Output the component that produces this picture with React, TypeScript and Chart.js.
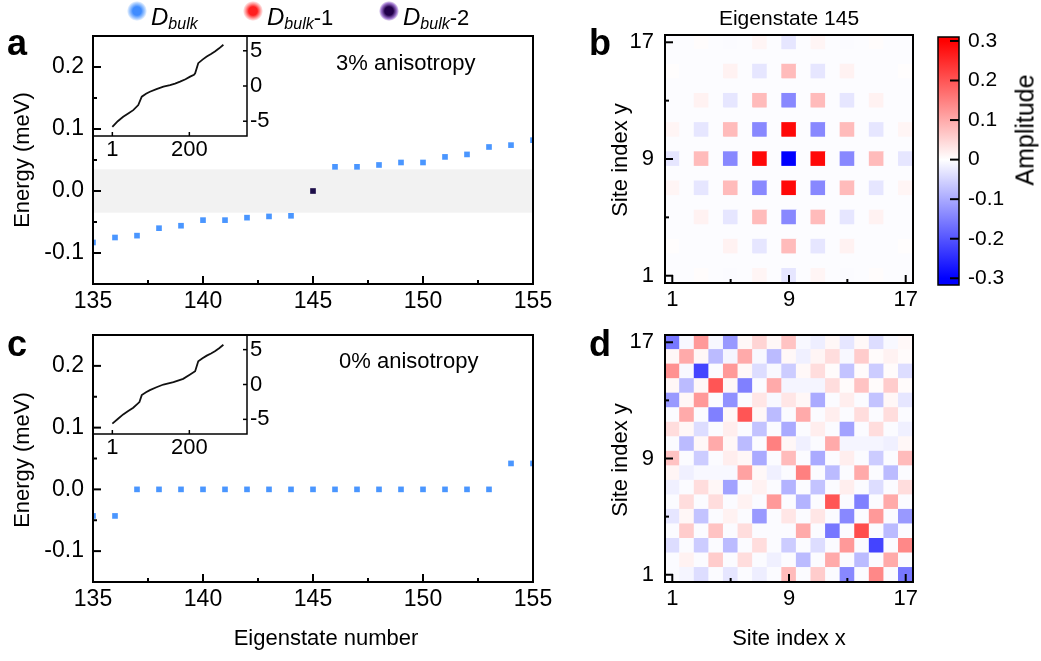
import React, { useEffect, useRef } from 'react';
import { Chart, registerables } from 'chart.js';

Chart.register(...registerables);

const W = 1041;
const H = 661;
const FONT = "'Liberation Sans', Arial, Helvetica, sans-serif";
const AX = 60; // fixed space given to every visible axis box

// ---------------- Data ----------------
// Panel a (3% anisotropy)
const bulkIdxA = [135, 136, 137, 138, 139, 140, 141, 142, 143, 144, 146, 147, 148, 149, 150, 151, 152, 153, 154, 155];
const bulkEnergyA = [-0.083, -0.075, -0.072, -0.06, -0.056, -0.047, -0.047, -0.043, -0.041, -0.04, 0.039, 0.039, 0.042, 0.046, 0.046, 0.055, 0.059, 0.071, 0.074, 0.082];
const edgeIdxA = [145];
const edgeEnergyA = [0.0];
const gapBandA = [-0.035, 0.035];

// Panel c (0% anisotropy)
const bulkIdxC = [135, 136, 137, 138, 139, 140, 141, 142, 143, 144, 145, 146, 147, 148, 149, 150, 151, 152, 153, 154, 155];
const bulkEnergyC = [-0.043, -0.043, 0, 0, 0, 0, 0, 0, 0, 0, 0, 0, 0, 0, 0, 0, 0, 0, 0, 0.042, 0.042];

// Insets: full spectrum
const insetIdxA = [1, 15, 29, 42, 55, 68, 77, 88, 98, 115, 133, 150, 163, 176, 190, 202, 212, 215, 223, 234, 245, 256, 266, 277, 288];
const insetEnergyA = [-5.81, -5.0, -4.38, -3.9, -3.43, -2.71, -1.52, -1.1, -0.81, -0.45, -0.1, 0.14, 0.35, 0.62, 0.95, 1.33, 1.6, 1.81, 3.24, 3.75, 4.19, 4.55, 4.9, 5.35, 5.86];
const insetIdxC = [1, 15, 29, 42, 55, 71, 77, 88, 98, 115, 133, 159, 184, 202, 215, 223, 234, 245, 256, 266, 277, 288];
const insetEnergyC = [-5.62, -4.95, -4.29, -3.8, -3.33, -2.52, -1.52, -1.12, -0.81, -0.4, 0.0, 0.33, 0.81, 1.43, 1.9, 3.33, 3.75, 4.14, 4.45, 4.76, 5.2, 5.71];

// Ticks
const mainXMajor = [135, 140, 145, 150, 155];
const mainXMinor = [137.5, 142.5, 147.5, 152.5];
const mainYMajor = [-0.1, 0.0, 0.1, 0.2];
const mainYMinor = [-0.05, 0.05, 0.15];
const insetXMajor = [1, 200];
const insetYMajor = [-5, 0, 5];
const siteMajor = [1, 9, 17];
const siteMinor = [5, 13];
const colorbarTicks = [-0.3, -0.2, -0.1, 0, 0.1, 0.2, 0.3];
const colorbarStops = [-0.3, 0, 0.3];
const colorbarColors = ['#0000ff', '#ffffff', '#ff0000'];

// Panel b: eigenstate 145 amplitude (rows from y=17 at top down to y=1)
const amplitudeB = [
  [-0.004, -0.004, 0.003, -0.004, -0.005, -0.004, 0.012, -0.004, -0.03, -0.004, 0.012, -0.004, -0.005, -0.004, 0.003, -0.004, -0.004],
  [-0.004, -0.004, -0.004, -0.004, -0.004, -0.004, -0.004, -0.004, -0.004, -0.004, -0.004, -0.004, -0.004, -0.004, -0.004, -0.004, -0.004],
  [0.002, -0.004, -0.004, -0.004, 0.015, -0.004, -0.03, -0.004, 0.08, -0.004, -0.03, -0.004, 0.015, -0.004, -0.004, -0.004, 0.002],
  [-0.004, -0.004, -0.004, -0.004, -0.004, -0.004, -0.004, -0.004, -0.004, -0.004, -0.004, -0.004, -0.004, -0.004, -0.004, -0.004, -0.004],
  [-0.004, -0.004, 0.015, -0.004, -0.03, -0.004, 0.08, -0.004, -0.14, -0.004, 0.08, -0.004, -0.03, -0.004, 0.015, -0.004, -0.004],
  [-0.004, -0.004, -0.004, -0.004, -0.004, -0.004, -0.004, -0.004, -0.004, -0.004, -0.004, -0.004, -0.004, -0.004, -0.004, -0.004, -0.004],
  [0.012, -0.004, -0.03, -0.004, 0.08, -0.004, -0.14, -0.004, 0.29, -0.004, -0.14, -0.004, 0.08, -0.004, -0.03, -0.004, 0.012],
  [-0.004, -0.004, -0.004, -0.004, -0.004, -0.004, -0.004, -0.004, -0.004, -0.004, -0.004, -0.004, -0.004, -0.004, -0.004, -0.004, -0.004],
  [-0.03, -0.004, 0.08, -0.004, -0.14, -0.004, 0.29, -0.004, -0.3, -0.004, 0.29, -0.004, -0.14, -0.004, 0.08, -0.004, -0.03],
  [-0.004, -0.004, -0.004, -0.004, -0.004, -0.004, -0.004, -0.004, -0.004, -0.004, -0.004, -0.004, -0.004, -0.004, -0.004, -0.004, -0.004],
  [0.012, -0.004, -0.03, -0.004, 0.08, -0.004, -0.14, -0.004, 0.29, -0.004, -0.14, -0.004, 0.08, -0.004, -0.03, -0.004, 0.012],
  [-0.004, -0.004, -0.004, -0.004, -0.004, -0.004, -0.004, -0.004, -0.004, -0.004, -0.004, -0.004, -0.004, -0.004, -0.004, -0.004, -0.004],
  [-0.004, -0.004, 0.015, -0.004, -0.03, -0.004, 0.08, -0.004, -0.14, -0.004, 0.08, -0.004, -0.03, -0.004, 0.015, -0.004, -0.004],
  [-0.004, -0.004, -0.004, -0.004, -0.004, -0.004, -0.004, -0.004, -0.004, -0.004, -0.004, -0.004, -0.004, -0.004, -0.004, -0.004, -0.004],
  [0.002, -0.004, -0.004, -0.004, 0.015, -0.004, -0.03, -0.004, 0.08, -0.004, -0.03, -0.004, 0.015, -0.004, -0.004, -0.004, 0.002],
  [-0.004, -0.004, -0.004, -0.004, -0.004, -0.004, -0.004, -0.004, -0.004, -0.004, -0.004, -0.004, -0.004, -0.004, -0.004, -0.004, -0.004],
  [-0.004, -0.004, 0.003, -0.004, -0.005, -0.004, 0.012, -0.004, -0.03, -0.004, 0.012, -0.004, -0.005, -0.004, 0.003, -0.004, -0.004],
];

// Panel d: 0% anisotropy amplitude (rows from y=17 at top down to y=1)
const amplitudeD = [
  [-0.16, -0.008, 0.12, -0.008, -0.12, 0.008, 0.05, 0.01, 0.07, -0.008, -0.02, 0.01, -0.03, 0.008, -0.04, -0.008, 0.008],
  [0.01, 0.1, 0.01, -0.08, -0.012, 0.1, -0.008, -0.08, 0.008, -0.018, 0.012, 0.04, -0.008, 0.06, 0.005, 0.015, 0.005],
  [0.13, -0.008, -0.22, -0.005, 0.12, 0.008, -0.04, -0.008, -0.06, 0.008, 0.04, 0.005, -0.07, 0.005, -0.06, 0.005, -0.04],
  [0.01, -0.08, 0.01, 0.2, 0.01, -0.15, -0.005, 0.1, -0.012, -0.012, -0.012, 0.04, 0.005, 0.07, 0.005, 0.06, 0.005],
  [-0.12, 0.01, 0.12, -0.005, -0.13, -0.005, 0.03, -0.008, 0.03, 0.01, -0.1, -0.005, 0.02, -0.005, -0.07, 0.01, -0.03],
  [-0.005, 0.1, -0.005, -0.15, 0.01, 0.2, 0.01, -0.08, -0.005, 0.1, -0.005, 0.02, -0.005, 0.04, -0.005, 0.04, -0.005],
  [0.04, 0.01, -0.04, -0.005, 0.02, -0.005, -0.07, -0.005, -0.1, -0.005, 0.02, -0.005, -0.11, -0.005, 0.04, -0.005, -0.018],
  [-0.005, -0.08, 0.01, 0.1, 0.01, -0.08, -0.005, 0.15, 0.01, -0.018, -0.005, 0.1, -0.012, -0.012, -0.012, -0.018, 0.01],
  [0.07, -0.005, -0.06, -0.005, 0.02, 0.01, -0.1, -0.005, 0.08, -0.005, -0.1, -0.005, 0.02, -0.005, -0.06, -0.005, 0.08],
  [0.012, -0.018, -0.008, -0.008, -0.008, 0.11, 0.008, -0.018, -0.005, 0.15, -0.005, -0.08, -0.005, 0.1, -0.005, -0.08, -0.005],
  [-0.018, -0.005, 0.04, 0.01, -0.11, -0.005, 0.015, -0.005, -0.09, -0.005, -0.07, -0.005, 0.02, -0.005, -0.04, -0.005, 0.04],
  [-0.005, 0.04, -0.005, 0.04, -0.005, 0.015, -0.005, 0.12, -0.005, -0.09, -0.005, 0.2, -0.005, -0.15, -0.005, 0.1, -0.005],
  [-0.03, 0.01, -0.07, -0.005, 0.015, -0.005, -0.12, -0.005, 0.03, -0.005, 0.03, -0.005, -0.14, -0.005, 0.12, -0.005, -0.12],
  [-0.005, 0.06, -0.005, 0.07, -0.005, 0.04, -0.005, -0.005, -0.005, 0.1, -0.005, -0.16, -0.005, 0.21, -0.005, -0.08, -0.005],
  [-0.04, -0.005, -0.06, -0.005, -0.08, -0.005, 0.04, -0.005, -0.06, -0.005, -0.04, -0.005, 0.12, -0.005, -0.22, -0.005, 0.14],
  [-0.005, 0.015, -0.005, 0.06, -0.005, 0.04, -0.005, -0.018, -0.005, -0.08, -0.005, 0.1, -0.005, -0.08, -0.005, 0.1, -0.005],
  [-0.005, -0.012, -0.04, -0.005, -0.03, -0.005, -0.02, -0.005, 0.08, -0.005, 0.06, -0.005, -0.14, -0.005, 0.14, -0.005, -0.16],
];

// ---------------- Styles ----------------
const BLUE = '#4a96ff';
const PURPLE = '#1e0f4a';
const BAND = '#f2f2f2';

// ---------------- Helpers ----------------
type Area = [number, number, number, number];
type Sides = { left?: boolean; right?: boolean; bottom?: boolean };

function ampColor(v: number): string {
  const t = Math.max(-1, Math.min(1, v / 0.3));
  if (t >= 0) {
    const g = Math.round(255 * (1 - t));
    return `rgb(255,${g},${g})`;
  }
  const g = Math.round(255 * (1 + t));
  return `rgb(${g},${g},255)`;
}

function axis(kind: 'x' | 'y', position: string, min: number, max: number, ticks: number[], fmt: (v: number) => string, pad: number, size: number) {
  return {
    type: 'linear',
    position,
    min,
    max,
    afterBuildTicks: (s: any) => {
      s.ticks = ticks.map((v) => ({ value: v }));
    },
    afterFit: (s: any) => {
      if (kind === 'x') s.height = AX;
      else s.width = AX;
    },
    ticks: {
      callback: (v: any) => fmt(Number(v)),
      font: { family: FONT, size },
      color: '#000',
      padding: pad,
      autoSkip: false,
      maxRotation: 0,
      minRotation: 0,
    },
    grid: { display: false, drawTicks: false },
    border: { display: false },
  };
}

type TickSpec = { axis: string; side: 'left' | 'right' | 'bottom'; major: number[]; minor: number[]; majorLen: number; minorLen: number; width: number };

function framePlugin(lineWidth: number, specs: TickSpec[]) {
  return {
    id: 'frame',
    afterDraw(chart: any) {
      const { ctx, chartArea: a } = chart;
      ctx.save();
      ctx.strokeStyle = '#000';
      for (const t of specs) {
        const sc = chart.scales[t.axis];
        ctx.lineWidth = t.width;
        const draw = (v: number, len: number) => {
          const p = sc.getPixelForValue(v);
          ctx.beginPath();
          if (t.side === 'bottom') {
            ctx.moveTo(p, a.bottom);
            ctx.lineTo(p, a.bottom - len);
          } else if (t.side === 'left') {
            ctx.moveTo(a.left, p);
            ctx.lineTo(a.left + len, p);
          } else {
            ctx.moveTo(a.right, p);
            ctx.lineTo(a.right - len, p);
          }
          ctx.stroke();
        };
        t.major.forEach((v) => draw(v, t.majorLen));
        t.minor.forEach((v) => draw(v, t.minorLen));
      }
      ctx.lineWidth = lineWidth;
      ctx.strokeRect(a.left, a.top, a.right - a.left, a.bottom - a.top);
      ctx.restore();
    },
  };
}

function bandPlugin(range: number[]) {
  return {
    id: 'band',
    beforeDatasetsDraw(chart: any) {
      const { ctx, chartArea: a, scales } = chart;
      const y1 = scales.y.getPixelForValue(range[1]);
      const y0 = scales.y.getPixelForValue(range[0]);
      ctx.save();
      ctx.fillStyle = BAND;
      ctx.fillRect(a.left, y1, a.right - a.left, y0 - y1);
      ctx.restore();
    },
  };
}

const colorbarPlugin = {
  id: 'cbar',
  beforeDatasetsDraw(chart: any) {
    const { ctx, chartArea: a, scales } = chart;
    const y = scales.y;
    const lo = colorbarStops[0];
    const hi = colorbarStops[colorbarStops.length - 1];
    const g = ctx.createLinearGradient(0, y.getPixelForValue(lo), 0, y.getPixelForValue(hi));
    colorbarStops.forEach((s, i) => g.addColorStop((s - lo) / (hi - lo), colorbarColors[i]));
    ctx.save();
    ctx.fillStyle = g;
    ctx.fillRect(a.left, a.top, a.right - a.left, a.bottom - a.top);
    ctx.restore();
  },
};

function baseOptions(area: Area, sides: Sides, scales: any) {
  const [L, T, R, B] = area;
  return {
    responsive: false,
    animation: false,
    events: [],
    layout: {
      padding: {
        left: L - (sides.left ? AX : 0),
        top: T,
        right: W - R - (sides.right ? AX : 0),
        bottom: H - B - (sides.bottom ? AX : 0),
      },
      autoPadding: false,
    },
    plugins: { legend: { display: false }, tooltip: { enabled: false }, title: { display: false } },
    scales,
  };
}

const fmtMainX = (v: number) => String(v);
const fmtMainY = (v: number) => v.toFixed(1);
const fmtInt = (v: number) => String(v);
const fmtCbar = (v: number) => (Math.abs(v) < 1e-9 ? '0' : v.toFixed(1));

function pts(xs: number[], ys: number[]) {
  return xs.map((x, i) => ({ x, y: ys[i] }));
}

function mainConfig(area: Area, datasets: any[], extraPlugins: any[]) {
  return {
    type: 'scatter',
    data: { datasets },
    options: baseOptions(area, { left: true, bottom: true }, {
      x: axis('x', 'bottom', 135, 155, mainXMajor, fmtMainX, 4, 23),
      y: axis('y', 'left', -0.15, 0.25, mainYMajor, fmtMainY, 9, 23),
    }),
    plugins: [
      ...extraPlugins,
      framePlugin(2, [
        { axis: 'x', side: 'bottom', major: mainXMajor, minor: mainXMinor, majorLen: 8, minorLen: 4, width: 2 },
        { axis: 'y', side: 'left', major: mainYMajor, minor: mainYMinor, majorLen: 8, minorLen: 4, width: 2 },
      ]),
    ],
  };
}

function squareSet(data: any[], color: string) {
  return {
    data,
    pointStyle: 'rect',
    pointRadius: 4,
    pointBackgroundColor: color,
    pointBorderWidth: 0,
    borderWidth: 0,
    showLine: false,
    clip: 0,
  };
}

function insetConfig(area: Area, xs: number[], ys: number[]) {
  return {
    type: 'scatter',
    data: {
      datasets: [
        {
          data: pts(xs, ys),
          showLine: true,
          borderColor: '#111',
          borderWidth: 1.8,
          pointRadius: 0,
          tension: 0,
          clip: 0,
        },
      ],
    },
    options: baseOptions(area, { right: true, bottom: true }, {
      x: axis('x', 'bottom', -49, 349, insetXMajor, fmtInt, 1, 22),
      y: axis('y', 'right', -7.1, 7.1, insetYMajor, fmtInt, 3, 22),
    }),
    plugins: [
      framePlugin(1.5, [
        { axis: 'x', side: 'bottom', major: insetXMajor, minor: [], majorLen: 4, minorLen: 2, width: 1.5 },
        { axis: 'y', side: 'right', major: insetYMajor, minor: [], majorLen: 4, minorLen: 2, width: 1.5 },
      ]),
    ],
  };
}

function heatConfig(area: Area, grid: number[][]) {
  const data: { x: number; y: number }[] = [];
  const vals: number[] = [];
  grid.forEach((row, r) =>
    row.forEach((v, c) => {
      data.push({ x: c + 1, y: grid.length - r });
      vals.push(v);
    })
  );
  return {
    type: 'scatter',
    data: {
      datasets: [
        {
          data,
          pointStyle: 'rect',
          pointRadius: (ctx: any) => {
            const xs = ctx.chart.scales.x;
            const cell = Math.abs(xs.getPixelForValue(2) - xs.getPixelForValue(1));
            return (cell + 0.8) / Math.SQRT2;
          },
          pointBackgroundColor: (ctx: any) => ampColor(vals[ctx.dataIndex]),
          pointBorderWidth: 0,
          borderWidth: 0,
          showLine: false,
          clip: 0,
        },
      ],
    },
    options: baseOptions(area, { left: true, bottom: true }, {
      x: axis('x', 'bottom', 0.5, 17.5, siteMajor, fmtInt, 4, 22),
      y: axis('y', 'left', 0.5, 17.5, siteMajor, fmtInt, 11, 22),
    }),
    plugins: [
      framePlugin(2, [
        { axis: 'x', side: 'bottom', major: siteMajor, minor: siteMinor, majorLen: 8, minorLen: 4, width: 2 },
        { axis: 'y', side: 'left', major: siteMajor, minor: siteMinor, majorLen: 8, minorLen: 4, width: 2 },
      ]),
    ],
  };
}

function colorbarConfig(area: Area) {
  return {
    type: 'scatter',
    data: { datasets: [] },
    options: baseOptions(area, { right: true }, {
      x: { type: 'linear', display: false, min: 0, max: 1 },
      y: axis('y', 'right', -0.317, 0.31, colorbarTicks, fmtCbar, 9, 21),
    }),
    plugins: [
      colorbarPlugin,
      framePlugin(1.5, [{ axis: 'y', side: 'right', major: colorbarTicks, minor: [], majorLen: 9, minorLen: 4, width: 2 }]),
    ],
  };
}

// ---------------- Components ----------------
function ChartLayer({ make }: { make: () => any }) {
  const ref = useRef<HTMLCanvasElement>(null);
  useEffect(() => {
    const chart = new Chart(ref.current as HTMLCanvasElement, make());
    return () => chart.destroy();
  }, []);
  return <canvas ref={ref} width={W} height={H} style={{ position: 'absolute', left: 0, top: 0, width: W, height: H }} />;
}

function Txt(props: { x: number; y: number; size: number; children: any; center?: boolean; rotate?: boolean; bold?: boolean }) {
  const { x, y, size, children, center, rotate, bold } = props;
  const style: any = {
    position: 'absolute',
    fontFamily: FONT,
    fontSize: size,
    lineHeight: `${size}px`,
    whiteSpace: 'nowrap',
    color: '#000',
    fontWeight: bold ? 700 : 400,
  };
  if (rotate) {
    style.left = x;
    style.top = y;
    style.transform = 'translate(-50%, -50%) rotate(-90deg)';
  } else {
    style.left = x;
    style.top = y - 0.83 * size;
    if (center) style.transform = 'translateX(-50%)';
  }
  return <div style={style}>{children}</div>;
}

function LegendItem({ cx, core, edge, tail }: { cx: number; core: string; edge: string; tail: string }) {
  return (
    <>
      <div
        style={{
          position: 'absolute',
          left: cx - 10,
          top: 1,
          width: 20,
          height: 20,
          borderRadius: '50%',
          background: `radial-gradient(circle at 50% 50%, ${core} 0%, ${core} 30%, ${edge} 55%, rgba(255,255,255,0) 72%)`,
        }}
      />
      <div style={{ position: 'absolute', left: cx + 14, top: 25 - 0.83 * 24, fontFamily: FONT, fontSize: 24, lineHeight: '24px', whiteSpace: 'nowrap', color: '#000' }}>
        <i>D</i>
        <i style={{ fontSize: 16, position: 'relative', top: 4 }}>bulk</i>
        <span style={{ fontSize: 22 }}>{tail}</span>
      </div>
    </>
  );
}

export default function App() {
  const areaA: Area = [93, 36, 533, 284];
  const areaAInset: Area = [93, 36, 247, 136];
  const areaC: Area = [93, 335, 533, 582];
  const areaCInset: Area = [93, 335, 247, 434];
  const areaB: Area = [665, 35, 913, 283];
  const areaD: Area = [665, 335, 913, 582];
  const areaBar: Area = [938, 37, 959, 285];

  return (
    <div style={{ position: 'absolute', left: 0, top: 0, width: W, height: H, background: '#fff', overflow: 'hidden' }}>
      <ChartLayer
        make={() =>
          mainConfig(areaA, [squareSet(pts(bulkIdxA, bulkEnergyA), BLUE), squareSet(pts(edgeIdxA, edgeEnergyA), PURPLE)], [bandPlugin(gapBandA)])
        }
      />
      <ChartLayer make={() => insetConfig(areaAInset, insetIdxA, insetEnergyA)} />
      <ChartLayer make={() => mainConfig(areaC, [squareSet(pts(bulkIdxC, bulkEnergyC), BLUE)], [])} />
      <ChartLayer make={() => insetConfig(areaCInset, insetIdxC, insetEnergyC)} />
      <ChartLayer make={() => heatConfig(areaB, amplitudeB)} />
      <ChartLayer make={() => heatConfig(areaD, amplitudeD)} />
      <ChartLayer make={() => colorbarConfig(areaBar)} />

      <LegendItem cx={137} core="#3f8cff" edge="rgba(100,165,255,0.55)" tail="" />
      <LegendItem cx={253} core="#ff1f1f" edge="rgba(255,100,100,0.55)" tail="-1" />
      <LegendItem cx={389} core="#22004a" edge="rgba(90,20,170,0.6)" tail="-2" />

      <Txt x={7} y={55} size={36} bold>a</Txt>
      <Txt x={589} y={55} size={36} bold>b</Txt>
      <Txt x={7} y={356} size={36} bold>c</Txt>
      <Txt x={589} y={356} size={36} bold>d</Txt>

      <Txt x={789} y={24} size={21} center>Eigenstate 145</Txt>
      <Txt x={336} y={70} size={22}>3% anisotropy</Txt>
      <Txt x={339} y={368} size={22}>0% anisotropy</Txt>

      <Txt x={22} y={160} size={22} rotate>Energy (meV)</Txt>
      <Txt x={22} y={460} size={22} rotate>Energy (meV)</Txt>
      <Txt x={326} y={645} size={22} center>Eigenstate number</Txt>

      <Txt x={620} y={160} size={22} rotate>Site index y</Txt>
      <Txt x={620} y={460} size={22} rotate>Site index y</Txt>
      <Txt x={789} y={645} size={22} center>Site index x</Txt>

      <Txt x={1025} y={130} size={25} rotate>Amplitude</Txt>
    </div>
  );
}
